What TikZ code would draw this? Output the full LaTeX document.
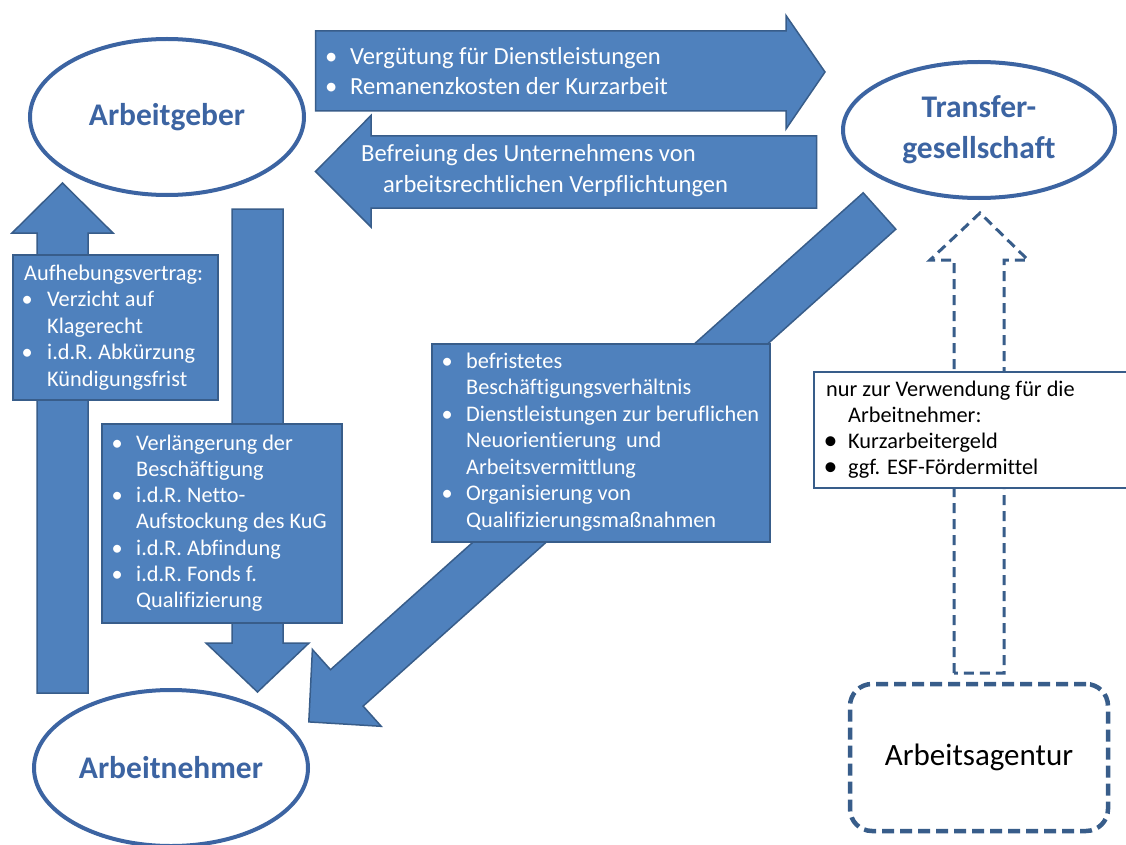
\documentclass[tikz,border=0pt]{standalone}
\usepackage{fontspec}
\setmainfont[Ligatures={NoCommon}]{Carlito}
\usetikzlibrary{shapes.geometric}
\definecolor{blfill}{HTML}{4F81BD}
\definecolor{blborder}{HTML}{385D8A}
\definecolor{ellblue}{HTML}{3C64A2}
\newcommand{\bul}[1]{\makebox[#1][l]{\textbullet}}
\newcommand{\bulbig}[1]{\makebox[#1][l]{\raisebox{-0.5pt}{\scalebox{1.25}{\textbullet}}}}
\begin{document}
\begin{tikzpicture}[x=1pt,y=-1pt,
  blockarrow/.style={fill=blfill,draw=blborder,line width=1.5pt,line join=miter},
  bluebox/.style={fill=blfill,draw=blborder,line width=1.5pt},
  ell/.style={ellipse,draw=ellblue,line width=4pt,fill=white,inner sep=0pt,text=ellblue,
    font=\fontsize{31.5}{41}\selectfont\bfseries,align=center},
  wtxt/.style={anchor=base west,inner sep=0pt,text=white},
  btxt/.style={anchor=base west,inner sep=0pt,text=black},
  dasharrow/.style={draw=blborder,line width=3pt,dash pattern=on 10pt off 6pt,fill=white,line join=miter}
]
\useasboundingbox (0,0) rectangle (1126,845);
\fill[white] (0,0) rectangle (1126,845);

% top arrows
\draw[blockarrow] (315.5,31) -- (786,31) -- (786,15.5) -- (825,72) -- (786,129) -- (786,111) -- (315.5,111) -- cycle;
\draw[blockarrow] (816.5,136) -- (816.5,208) -- (371,208) -- (371,227) -- (315.5,171.5) -- (371,115.5) -- (371,136) -- cycle;

% left up arrow
\draw[blockarrow] (37,693) -- (37,233) -- (12,233) -- (62.5,183) -- (113,233) -- (88,233) -- (88,693) -- cycle;
% down arrow
\draw[blockarrow] (232,209) -- (283,209) -- (283,643) -- (309,643) -- (257.5,692) -- (206,643) -- (232,643) -- cycle;
% diagonal arrow
\draw[blockarrow] (863.2,192.8) -- (895.8,229.2) -- (363.1,706.1) -- (381.2,726.3) -- (308.8,721.9) -- (312.4,649.5) -- (330.5,669.7) -- cycle;

% dashed arrow
\draw[dasharrow] (954,673) -- (954,260) -- (930,260) -- (980,213) -- (1028,260) -- (1004,260) -- (1004,673) -- cycle;

% boxes
\draw[bluebox] (13,255) rectangle (218,400);
\draw[bluebox] (102,424) rectangle (342,623);
\draw[bluebox] (432,344) rectangle (770,542);
\draw[fill=white,draw=blborder,line width=2pt] (814,372) rectangle (1132,488);

% ellipses
\node[ell,minimum width=274pt,minimum height=156pt] (ag) at (167,117) {Arbeitgeber};
\node[ell,minimum width=272pt,minimum height=136pt] (tg) at (979,130) {Transfer-\\gesellschaft};
\node[ell,minimum width=274pt,minimum height=156pt] (an) at (171,768) {Arbeitnehmer};

% Arbeitsagentur
\node[draw=blborder,line width=4.5pt,dash pattern=on 12pt off 6pt,rounded corners=22pt,
  minimum width=258pt,minimum height=147pt,inner sep=0pt,font=\fontsize{31}{36}\selectfont] (aa) at (979,757.5) {Arbeitsagentur};

% texts
\node[wtxt,font=\fontsize{24.6}{30}\selectfont] (t1) at (325,65)
  {\begin{tabular}[t]{@{}l@{}}\bul{25pt}Vergütung für Dienstleistungen\\\bul{25pt}Remanenzkosten\ der Kurzarbeit\end{tabular}};
\node[wtxt,font=\fontsize{24.6}{31}\selectfont] (t2) at (361,162)
  {\begin{tabular}[t]{@{}l@{}}Befreiung\ des Unternehmens\ von\\\hspace*{22pt}arbeitsrechtlichen\ Verpflichtungen\end{tabular}};
\node[wtxt,font=\fontsize{22.3}{26.5}\selectfont] (t3) at (21.5,280)
  {\begin{tabular}[t]{@{}l@{}}\hspace*{2.5pt}Aufhebungsvertrag:\\\bul{25.5pt}Verzicht auf\\\hspace*{25.5pt}Klagerecht\\\bul{25.5pt}i.d.R. Abkürzung\\\hspace*{25.5pt}Kündigungsfrist\end{tabular}};
\node[wtxt,font=\fontsize{22.3}{26.3}\selectfont] (t4) at (111.5,450)
  {\begin{tabular}[t]{@{}l@{}}\bul{24.5pt}Verlängerung der\\\hspace*{24.5pt}Beschäftigung\\\bul{24.5pt}i.d.R. Netto-\\\hspace*{24.5pt}Aufstockung des KuG\\\bul{24.5pt}i.d.R. Abfindung\\\bul{24.5pt}i.d.R. Fonds f.\\\hspace*{24.5pt}Qualifizierung\end{tabular}};
\node[wtxt,font=\fontsize{22.3}{26.5}\selectfont] (t5) at (441.5,368)
  {\begin{tabular}[t]{@{}l@{}}\bul{24.5pt}befristetes\\\hspace*{24.5pt}Beschäftigungsverhältnis\\\bul{24.5pt}Dienstleistungen zur beruflichen\\\hspace*{24.5pt}Neuorientierung\ \ und\\\hspace*{24.5pt}Arbeitsvermittlung\\\bul{24.5pt}Organisierung von\\\hspace*{24.5pt}Qualifizierungsmaßnahmen\end{tabular}};
\node[btxt,font=\fontsize{22.3}{26.3}\selectfont] (t6) at (823.5,396)
  {\begin{tabular}[t]{@{}l@{}}\hspace*{2.5pt}nur zur Verwendung für die\\\hspace*{24.5pt}Arbeitnehmer:\\\bulbig{24.5pt}Kurzarbeitergeld\\\bulbig{24.5pt}ggf. ESF-Fördermittel\end{tabular}};
\end{tikzpicture}
\end{document}
